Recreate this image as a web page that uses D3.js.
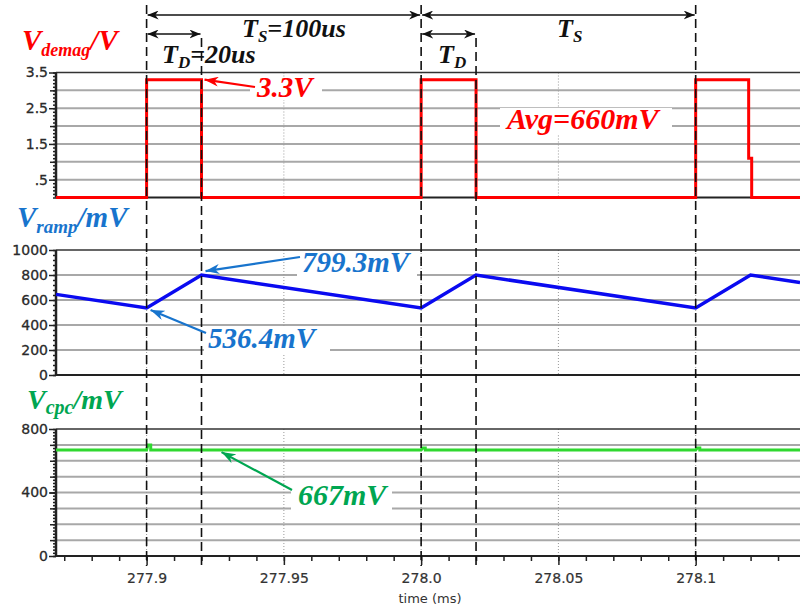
<!DOCTYPE html>
<html>
<head>
<meta charset="utf-8">
<script src="https://cdn.jsdelivr.net/npm/d3@7"></script>
<style>
  body { margin: 0; background: #fff; }
  .tick text { font-family: "DejaVu Sans", sans-serif; }
</style>
</head>
<body>
<div id="chart"></div>
<script>
// time axis (ms)
var timeDomain = [277.867, 278.138]
var xMajorTicks = [277.9, 277.95, 278.0, 278.05, 278.1]
var xTickLabels = ["277.9", "277.95", "278.0", "278.05", "278.1"]

// V_demag (V)
var demagTime  = [277.867, 277.9, 277.9, 277.92, 277.92, 278.0, 278.0, 278.02, 278.02, 278.1, 278.1, 278.1193, 278.1193, 278.1204, 278.1204, 278.138]
var demagValue = [0, 0, 3.3, 3.3, 0, 0, 3.3, 3.3, 0, 0, 3.3, 3.3, 1.1, 1.1, 0, 0]
var demagTickLabels = [".5", "1.5", "2.5", "3.5"]

// V_ramp (mV)
var rampTime  = [277.867, 277.9, 277.92, 278.0, 278.02, 278.1, 278.12, 278.138]
var rampValue = [645, 536.4, 799.3, 536.4, 799.3, 536.4, 799.3, 740]
var rampTickLabels = ["0", "200", "400", "600", "800", "1000"]

// V_cpc (mV)
var cpcTime  = [277.867, 277.9, 277.9005, 277.9015, 277.9015, 278.0, 278.0005, 278.0015, 278.0015, 278.1, 278.1005, 278.1015, 278.1015, 278.138]
var cpcValue = [667, 667, 700, 700, 667, 667, 680, 680, 667, 667, 680, 680, 667, 667]
var cpcTickLabels = ["0", "400", "800"]

// annotation marks
var periodMarks = [277.9, 277.92, 278.0, 278.02, 278.1]

var W = 800, H = 610
var left = 56, right = 800

var svg = d3.select("#chart").append("svg")
    .attr("width", W)
    .attr("height", H)
    .style("background", "#fff")

var x = d3.scaleLinear().domain(timeDomain).range([left, right])

var panels = [
    { top: 72.5, bottom: 197.5, domain: [0, 3.5], grid: d3.range(0.5, 3.01, 0.5),
      labels: demagTickLabels.map(Number), labelText: demagTickLabels,
      mid: [1, 2, 3], minor: d3.range(0, 3.51, 0.1) },
    { top: 250, bottom: 375, domain: [0, 1000], grid: [200, 400, 600, 800],
      labels: rampTickLabels.map(Number), labelText: rampTickLabels,
      mid: [], minor: d3.range(0, 1001, 40) },
    { top: 429, bottom: 556, domain: [0, 800], grid: d3.range(100, 701, 100),
      labels: cpcTickLabels.map(Number), labelText: cpcTickLabels,
      mid: d3.range(100, 701, 100), minor: d3.range(0, 801, 20) }
]

panels.forEach(function (p) {
    p.y = d3.scaleLinear().domain(p.domain).range([p.bottom, p.top])
    var g = svg.append("g")

    // horizontal grid
    g.selectAll("line.hgrid")
        .data(p.grid)
        .enter().append("line")
        .attr("x1", left).attr("x2", right)
        .attr("y1", function (d) { return p.y(d) })
        .attr("y2", function (d) { return p.y(d) })
        .attr("stroke", "#a8a8a8")
        .attr("stroke-width", 2)

    // vertical dotted grid
    g.selectAll("line.vgrid")
        .data(xMajorTicks)
        .enter().append("line")
        .attr("x1", function (d) { return x(d) })
        .attr("x2", function (d) { return x(d) })
        .attr("y1", p.top).attr("y2", p.bottom)
        .attr("stroke", "#999")
        .attr("stroke-width", 1)
        .attr("stroke-dasharray", "1,2")

    // frame top / bottom
    g.append("line").attr("x1", left).attr("x2", right)
        .attr("y1", p.top).attr("y2", p.top)
        .attr("stroke", "#333").attr("stroke-width", 1.5)
    g.append("line").attr("x1", left).attr("x2", right)
        .attr("y1", p.bottom).attr("y2", p.bottom)
        .attr("stroke", "#222").attr("stroke-width", 2)

    // y axis: minor, mid, labelled
    var minorAxis = d3.axisLeft(p.y).tickValues(p.minor).tickSize(3).tickFormat("")
    var midAxis = d3.axisLeft(p.y).tickValues(p.mid).tickSize(6).tickFormat("")
    var mainAxis = d3.axisLeft(p.y).tickValues(p.labels).tickSize(7)
        .tickFormat(function (d, i) { return p.labelText[i] })
    ;[minorAxis, midAxis, mainAxis].forEach(function (ax) {
        var a = g.append("g").attr("transform", "translate(" + left + ",0)").call(ax)
        a.select(".domain").remove()
        a.selectAll(".tick line").attr("stroke", "#222").attr("stroke-width", 1.5)
        a.selectAll(".tick text").attr("font-size", 14).attr("fill", "#2a2a2a")
            .attr("stroke", "#2a2a2a").attr("stroke-width", 0.3).attr("dx", 2)
    })
    g.append("line").attr("x1", left).attr("x2", left)
        .attr("y1", p.top).attr("y2", p.bottom)
        .attr("stroke", "#222").attr("stroke-width", 2.5)
})

// x axis at bottom of last panel
var xb = panels[2].bottom
var xMinor = d3.axisBottom(x).tickValues(d3.range(277.87, 278.138, 0.01)).tickSize(5).tickFormat("")
var xMain = d3.axisBottom(x).tickValues(xMajorTicks).tickSize(9)
    .tickFormat(function (d, i) { return xTickLabels[i] })
;[xMinor, xMain].forEach(function (ax) {
    var a = svg.append("g").attr("transform", "translate(0," + xb + ")").call(ax)
    a.select(".domain").remove()
    a.selectAll(".tick line").attr("stroke", "#222").attr("stroke-width", 1.5)
    a.selectAll(".tick text").attr("font-size", 14).attr("fill", "#333")
        .attr("stroke", "#333").attr("stroke-width", 0.2).attr("dy", "1.1em")
})
svg.append("text")
    .attr("x", 430).attr("y", 603)
    .attr("text-anchor", "middle")
    .attr("font-family", "DejaVu Sans, sans-serif")
    .attr("font-size", 13).attr("fill", "#333")
    .text("time (ms)")

// traces
function trace(times, values, p, color, width) {
    var line = d3.line()
        .x(function (d) { return x(d[0]) })
        .y(function (d) { return p.y(d[1]) })
    svg.append("path")
        .datum(d3.zip(times, values))
        .attr("d", line)
        .attr("fill", "none")
        .attr("stroke", color)
        .attr("stroke-width", width)
        .attr("stroke-linejoin", "miter")
}
trace(demagTime, demagValue, panels[0], "#ff0000", 3)
trace(rampTime, rampValue, panels[1], "#0a0af0", 3.5)
trace(cpcTime, cpcValue, panels[2], "#2fd82f", 3)

// dashed period markers
var dashTops = [5, 38, 5, 38, 5]
svg.selectAll("line.period")
    .data(periodMarks)
    .enter().append("line")
    .attr("x1", function (d) { return x(d) })
    .attr("x2", function (d) { return x(d) })
    .attr("y1", function (d, i) { return dashTops[i] })
    .attr("y2", 566)
    .attr("stroke", "#111")
    .attr("stroke-width", 1.6)
    .attr("stroke-dasharray", "9,5")

// arrow markers
var defs = svg.append("defs")
function marker(id, color, w, h) {
    defs.append("marker")
        .attr("id", id)
        .attr("viewBox", "0 0 " + w + " " + h)
        .attr("refX", w).attr("refY", h / 2)
        .attr("markerWidth", w).attr("markerHeight", h)
        .attr("markerUnits", "userSpaceOnUse")
        .attr("orient", "auto-start-reverse")
        .append("path")
        .attr("d", "M0,0 L" + w + "," + (h / 2) + " L0," + h + " L" + (w * 0.3) + "," + (h / 2) + " Z")
        .attr("fill", color)
}
marker("ak", "#111", 11, 9)
marker("ar", "#ff0000", 14, 10)
marker("ab", "#1874cd", 14, 10)
marker("ag", "#00a651", 14, 10)

function dimArrow(t0, t1, yy) {
    svg.append("line")
        .attr("x1", x(t0) + 1).attr("x2", x(t1) - 1)
        .attr("y1", yy).attr("y2", yy)
        .attr("stroke", "#111").attr("stroke-width", 1.5)
        .attr("marker-start", "url(#ak)")
        .attr("marker-end", "url(#ak)")
}
dimArrow(277.9, 278.0, 15)
dimArrow(278.0, 278.1, 15)
dimArrow(277.9, 277.92, 34)
dimArrow(278.0, 278.02, 34)

function pointer(x1, y1, x2, y2, color, id) {
    svg.append("line")
        .attr("x1", x1).attr("y1", y1)
        .attr("x2", x2).attr("y2", y2)
        .attr("stroke", color).attr("stroke-width", 2.2)
        .attr("marker-end", "url(#" + id + ")")
}

// rich label helper: parts = [text, size, dy]
function label(px, py, parts, color, box) {
    if (box) {
        svg.append("rect")
            .attr("x", box[0]).attr("y", box[1])
            .attr("width", box[2]).attr("height", box[3])
            .attr("fill", "#fff")
    }
    var t = svg.append("text")
        .attr("x", px).attr("y", py)
        .attr("font-family", "Liberation Serif, Times New Roman, serif")
        .attr("font-weight", "bold")
        .attr("font-style", "italic")
        .attr("fill", color)
    parts.forEach(function (pt) {
        t.append("tspan")
            .attr("font-size", pt[1])
            .attr("dy", pt[2] || 0)
            .text(pt[0])
    })
}

var P1 = panels[0], P2 = panels[1], P3 = panels[2]

// black timing labels
label(242, 37, [["T", 26], ["S", 17, 5], ["=100us", 26, -5]], "#111")
label(162, 63, [["T", 26], ["D", 17, 5], ["=20us", 26, -5]], "#111")
label(557, 37, [["T", 26], ["S", 17, 5]], "#111")
label(438, 63, [["T", 26], ["D", 17, 5]], "#111")

// axis titles
label(22, 50, [["V", 29], ["demag", 18, 6], ["/V", 29, -6]], "#ff0000")
label(17, 227, [["V", 29], ["ramp", 19, 6], ["/mV", 29, -6]], "#1874cd")
label(27, 409, [["V", 28], ["cpc", 20, 5], ["/mV", 28, -5]], "#00a651")

// value annotations
label(257, 97, [["3.3V", 29]], "#ff0000", [250, 80, 72, 20])
pointer(255, 87, x(277.92) + 3, P1.y(3.3), "#ff0000", "ar")
label(507, 129, [["Avg=660mV", 30]], "#ff0000", [500, 108, 172, 26])

label(302, 272, [["799.3mV", 29]], "#1874cd", [297, 252, 120, 24])
pointer(300, 257, x(277.92) + 4, P2.y(799.3) - 4, "#1874cd", "ab")
label(208, 348, [["536.4mV", 29]], "#1874cd", [204, 328, 126, 26])
pointer(206, 333, x(277.9) + 4, P2.y(536.4) + 2, "#1874cd", "ab")

label(298, 505, [["667mV", 30]], "#00a651", [291, 485, 101, 26])
pointer(292, 490, x(277.92) + 20, P3.y(667) + 2, "#00a651", "ag")
</script>
</body>
</html>
